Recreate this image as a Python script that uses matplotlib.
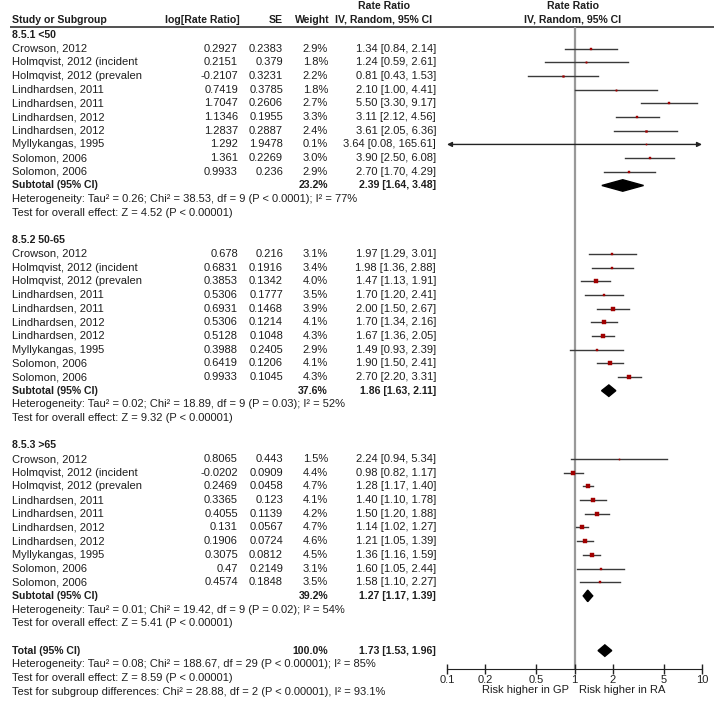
'''
Forest plot - rate ratio by age subgroup
'''

import matplotlib
matplotlib.use('Agg')
import matplotlib.pyplot as plt
from matplotlib.patches import Polygon

plt.rcParams['font.family'] = ['Liberation Sans', 'DejaVu Sans']

# Data
names = ['Crowson, 2012', 'Holmqvist, 2012 (incident', 'Holmqvist, 2012 (prevalen',
         'Lindhardsen, 2011', 'Lindhardsen, 2011', 'Lindhardsen, 2012', 'Lindhardsen, 2012',
         'Myllykangas, 1995', 'Solomon, 2006', 'Solomon, 2006']
groups = ['8.5.1 <50', '8.5.2 50-65', '8.5.3 >65']

log_rr = [[0.2927, 0.2151, -0.2107, 0.7419, 1.7047, 1.1346, 1.2837, 1.292, 1.361, 0.9933],
          [0.678, 0.6831, 0.3853, 0.5306, 0.6931, 0.5306, 0.5128, 0.3988, 0.6419, 0.9933],
          [0.8065, -0.0202, 0.2469, 0.3365, 0.4055, 0.131, 0.1906, 0.3075, 0.47, 0.4574]]
se = [[0.2383, 0.379, 0.3231, 0.3785, 0.2606, 0.1955, 0.2887, 1.9478, 0.2269, 0.236],
      [0.216, 0.1916, 0.1342, 0.1777, 0.1468, 0.1214, 0.1048, 0.2405, 0.1206, 0.1045],
      [0.443, 0.0909, 0.0458, 0.123, 0.1139, 0.0567, 0.0724, 0.0812, 0.2149, 0.1848]]
weight = [[2.9, 1.8, 2.2, 1.8, 2.7, 3.3, 2.4, 0.1, 3.0, 2.9],
          [3.1, 3.4, 4.0, 3.5, 3.9, 4.1, 4.3, 2.9, 4.1, 4.3],
          [1.5, 4.4, 4.7, 4.1, 4.2, 4.7, 4.6, 4.5, 3.1, 3.5]]
rr = [[1.34, 1.24, 0.81, 2.10, 5.50, 3.11, 3.61, 3.64, 3.90, 2.70],
      [1.97, 1.98, 1.47, 1.70, 2.00, 1.70, 1.67, 1.49, 1.90, 2.70],
      [2.24, 0.98, 1.28, 1.40, 1.50, 1.14, 1.21, 1.36, 1.60, 1.58]]
lo = [[0.84, 0.59, 0.43, 1.00, 3.30, 2.12, 2.05, 0.08, 2.50, 1.70],
      [1.29, 1.36, 1.13, 1.20, 1.50, 1.34, 1.36, 0.93, 1.50, 2.20],
      [0.94, 0.82, 1.17, 1.10, 1.20, 1.02, 1.05, 1.16, 1.05, 1.10]]
hi = [[2.14, 2.61, 1.53, 4.41, 9.17, 4.56, 6.36, 165.61, 6.08, 4.29],
      [3.01, 2.88, 1.91, 2.41, 2.67, 2.16, 2.05, 2.39, 2.41, 3.31],
      [5.34, 1.17, 1.40, 1.78, 1.88, 1.27, 1.39, 1.59, 2.44, 2.27]]

sub_w = [23.2, 37.6, 39.2]
sub_rr = [2.39, 1.86, 1.27]
sub_lo = [1.64, 1.63, 1.17]
sub_hi = [3.48, 2.11, 1.39]
sub_het = ['Heterogeneity: Tau\u00b2 = 0.26; Chi\u00b2 = 38.53, df = 9 (P < 0.0001); I\u00b2 = 77%',
           'Heterogeneity: Tau\u00b2 = 0.02; Chi\u00b2 = 18.89, df = 9 (P = 0.03); I\u00b2 = 52%',
           'Heterogeneity: Tau\u00b2 = 0.01; Chi\u00b2 = 19.42, df = 9 (P = 0.02); I\u00b2 = 54%']
sub_z = ['Test for overall effect: Z = 4.52 (P < 0.00001)',
         'Test for overall effect: Z = 9.32 (P < 0.00001)',
         'Test for overall effect: Z = 5.41 (P < 0.00001)']

tot_w, tot_rr, tot_lo, tot_hi = 100.0, 1.73, 1.53, 1.96
tot_notes = ['Heterogeneity: Tau\u00b2 = 0.08; Chi\u00b2 = 188.67, df = 29 (P < 0.00001); I\u00b2 = 85%',
             'Test for overall effect: Z = 8.59 (P < 0.00001)',
             'Test for subgroup differences: Chi\u00b2 = 28.88, df = 2 (P < 0.00001), I\u00b2 = 93.1%']

ticks = [0.1, 0.2, 0.5, 1, 2, 5, 10]
tick_labels = ['0.1', '0.2', '0.5', '1', '2', '5', '10']

# Layout (pixels)
W, H = 714, 706
Y0, DY = 35, 13.68          # first row, row step
HL = 27                     # header rule
AXB = 669                   # x axis line
X01, X10 = 447, 702         # plot area left/right
FS = 8.0
FSB = 7.6
TC = '#1e1e1e'
XN, XLOG, XSE, XW, XCI = 12, 238, 283, 328, 436

fig = plt.figure(figsize=(W / 100, H / 100), dpi=100)
ax = fig.add_axes([0, 0, 1, 1])
ax.set_xlim(0, W)
ax.set_ylim(H, 0)
ax.axis('off')

fx = fig.add_axes([X01 / W, 1 - AXB / H, (X10 - X01) / W, (AXB - HL) / H])
fx.set_xscale('log')
fx.set_xlim(0.1, 10)
fx.set_ylim((AXB - Y0) / DY, (HL - Y0) / DY)
fx.patch.set_alpha(0)
for s in ['top', 'left', 'right']:
    fx.spines[s].set_visible(False)
fx.spines['bottom'].set_color('#222222')
fx.set_yticks([])
fx.set_xticks(ticks)
fx.set_xticklabels(tick_labels)
fx.minorticks_off()
fx.tick_params(axis='x', direction='inout', length=7, width=1, pad=1,
               labelsize=FS, colors='#222222')
fx.axvline(1, color='#999999', lw=1.6, zorder=1)


def ypix(row):
    return Y0 + DY * row


def txt(x, row, s, ha='left', bold=False):
    ax.text(x, ypix(row), s, ha=ha, va='center', fontsize=FSB if bold else FS, color=TC,
            fontweight='bold' if bold else 'normal')


def diamond(row, c, l, h):
    fx.add_patch(Polygon([(l, row), (c, row - 0.42), (h, row), (c, row + 0.42)],
                         closed=True, color='black', zorder=3))


# Header
hy = [6, 20]
hkw = dict(va='center', fontsize=FSB, color=TC, fontweight='bold')
ax.text(XN, hy[1], 'Study or Subgroup', ha='left', **hkw)
ax.text(XLOG + 2, hy[1], 'log[Rate Ratio]', ha='right', **hkw)
ax.text(XSE, hy[1], 'SE', ha='right', **hkw)
ax.text(XW + 2, hy[1], 'Weight', ha='right', **hkw)
for xc in [384, 573]:
    ax.text(xc, hy[0], 'Rate Ratio', ha='center', **hkw)
    ax.text(xc, hy[1], 'IV, Random, 95% CI', ha='center', **hkw)
ax.hlines(HL, 10, W, color='#333333', lw=1.2)

# Subgroups
row = 0
for g in range(len(groups)):
    txt(XN, row, groups[g], bold=True)
    row += 1
    for i in range(len(names)):
        txt(XN, row, names[i])
        txt(XLOG, row, str(log_rr[g][i]), ha='right')
        txt(XSE, row, str(se[g][i]), ha='right')
        txt(XW, row, f'{weight[g][i]:.1f}%', ha='right')
        txt(XCI, row, f'{rr[g][i]:.2f} [{lo[g][i]:.2f}, {hi[g][i]:.2f}]', ha='right')
        l, h = lo[g][i], hi[g][i]
        if l < ticks[0] or h > ticks[-1]:
            style = '<|-|>' if (l < ticks[0] and h > ticks[-1]) else ('<|-' if l < ticks[0] else '-|>')
            fx.annotate('', xy=(min(h, ticks[-1]), row), xytext=(max(l, ticks[0]), row),
                        arrowprops=dict(arrowstyle=style, color='#222222', lw=1,
                                        mutation_scale=7, shrinkA=0, shrinkB=0))
        else:
            fx.plot([l, h], [row, row], color='#3a3a3a', lw=1, zorder=2)
        side = max(0.8 * weight[g][i], 1.2) * 0.72
        fx.plot(rr[g][i], row, marker='s', ms=side, color='#a00000', mec='#a00000',
                mew=0.3, zorder=4)
        row += 1
    txt(XN, row, 'Subtotal (95% CI)', bold=True)
    txt(XW, row, f'{sub_w[g]:.1f}%', ha='right', bold=True)
    txt(XCI, row, f'{sub_rr[g]:.2f} [{sub_lo[g]:.2f}, {sub_hi[g]:.2f}]', ha='right', bold=True)
    diamond(row, sub_rr[g], sub_lo[g], sub_hi[g])
    row += 1
    txt(XN, row, sub_het[g])
    row += 1
    txt(XN, row, sub_z[g])
    row += 2

# Total
txt(XN, row, 'Total (95% CI)', bold=True)
txt(XW, row, f'{tot_w:.1f}%', ha='right', bold=True)
txt(XCI, row, f'{tot_rr:.2f} [{tot_lo:.2f}, {tot_hi:.2f}]', ha='right', bold=True)
diamond(row, tot_rr, tot_lo, tot_hi)
for k, note in enumerate(tot_notes):
    txt(XN, row + 1 + k, note)

ax.text(569, 690, 'Risk higher in GP', ha='right', va='center', fontsize=FS, color=TC)
ax.text(579, 690, 'Risk higher in RA', ha='left', va='center', fontsize=FS, color=TC)

fig.savefig('out.png', dpi=100)
